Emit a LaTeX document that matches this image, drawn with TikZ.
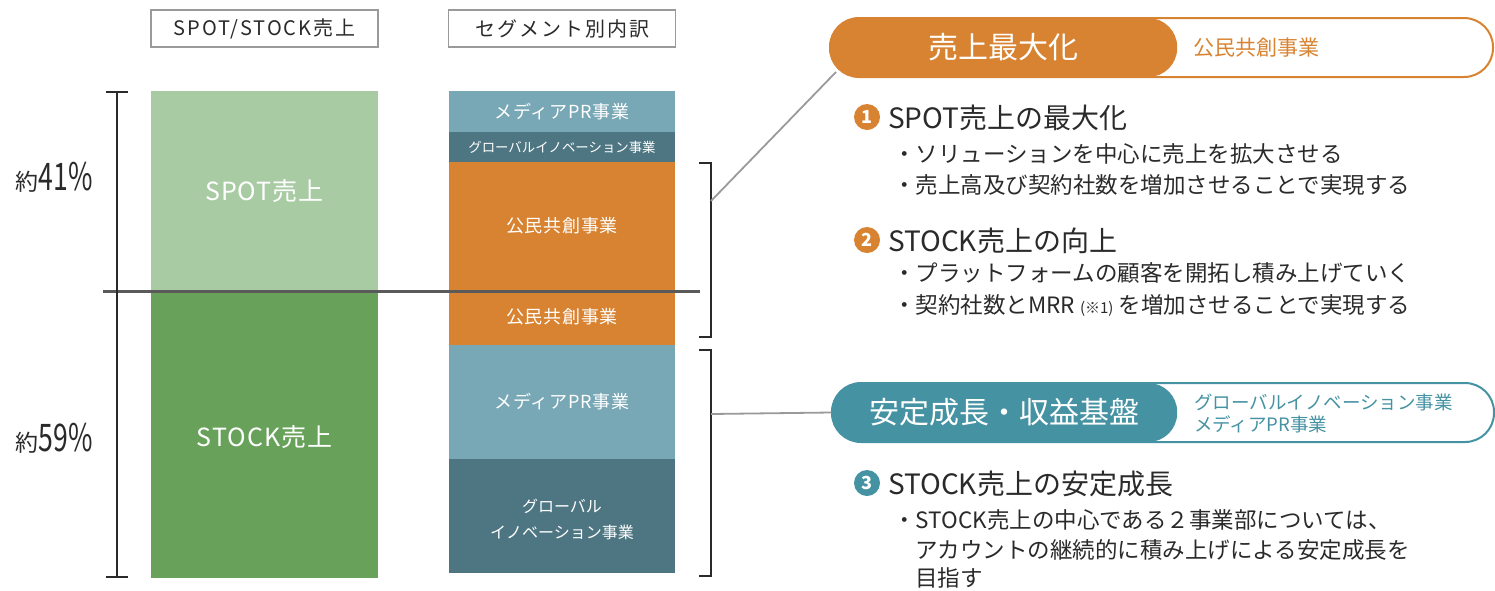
\documentclass[tikz,border=0pt]{standalone}
\usepackage{fontspec}
\setmainfont{Noto Sans CJK JP}
\newfontfamily\jpls[LetterSpace=10]{Noto Sans CJK JP}
\newfontfamily\jplss[LetterSpace=4]{Noto Sans CJK JP}
\definecolor{orng}{HTML}{D88331}
\definecolor{tealp}{HTML}{4592A3}
\definecolor{lblue}{HTML}{78A7B5}
\definecolor{dteal}{HTML}{4E7682}
\definecolor{lgreen}{HTML}{A9CBA4}
\definecolor{dgreen}{HTML}{68A25A}
\definecolor{txt}{HTML}{2A2A2A}
\definecolor{divl}{HTML}{5A5A5A}
\definecolor{conn}{HTML}{9A9A9A}
\newcommand{\fsz}[1]{\fontsize{#1}{#1}\selectfont}
\begin{document}
\begin{tikzpicture}[x=1pt,y=-1pt,
  hdr/.style={draw=conn, line width=1.6pt, minimum width=227pt, minimum height=37pt, inner sep=0pt, text=txt, font=\jpls\fsz{20}},
  blk/.style={anchor=north west, inner sep=0pt, outer sep=0pt, text=white},
  seglbl/.style={text=white, inner sep=0pt, font=\jplss\fsz{18}},
  brk/.style={draw=txt, line width=1.8pt},
  cn/.style={draw=conn, line width=1.8pt},
  pillout/.style={line width=2pt, rounded corners=29pt, minimum width=663pt, minimum height=59pt, anchor=west, inner sep=0pt},
  pillin/.style={rounded corners=29pt, minimum width=348pt, minimum height=59pt, anchor=west, inner sep=0pt, text=white, font=\fsz{30}},
  num/.style={circle, minimum size=26pt, inner sep=0pt, text=white, font=\bfseries\fsz{18}},
  ttl/.style={anchor=west, inner sep=0pt, text=txt, font=\fsz{28}},
  bul/.style={anchor=west, inner sep=0pt, text=txt, font=\fsz{22.5}}
]
\useasboundingbox (0,0) rectangle (1495,590);

% headers
\node[hdr] (h1) at (264.5,28.5) {SPOT/STOCK売上};
\node[hdr] (h2) at (562,28.5) {セグメント別内訳};

% left bars
\node[blk, fill=lgreen, minimum width=227pt, minimum height=200pt] (spot) at (151,91) {};
\node[text=white, inner sep=0pt, font=\jplss\fsz{25}] (spotl) at (264.5,191) {SPOT売上};
\node[blk, fill=dgreen, minimum width=227pt, minimum height=287pt] (stock) at (151,291) {};
\node[text=white, inner sep=0pt, font=\jplss\fsz{25}] (stockl) at (264.5,437) {STOCK売上};

% segment bars
\node[blk, fill=lblue, minimum width=226pt, minimum height=41pt] (s1) at (449,91) {};
\node[seglbl] at (s1.center) {メディアPR事業};
\node[blk, fill=dteal, minimum width=226pt, minimum height=30pt] (s2) at (449,132) {};
\node[seglbl, font=\fsz{13.4}] at (s2.center) {グローバルイノベーション事業};
\node[blk, fill=orng, minimum width=226pt, minimum height=183pt] (s3) at (449,162) {};
\node[seglbl] (s3a) at (562,226) {公民共創事業};
\node[seglbl] (s3b) at (562,317) {公民共創事業};
\node[blk, fill=lblue, minimum width=226pt, minimum height=114pt] (s4) at (449,345) {};
\node[seglbl] at (s4.center) {メディアPR事業};
\node[blk, fill=dteal, minimum width=226pt, minimum height=114pt] (s5) at (449,459) {};
\node[seglbl, align=center, font=\fontsize{16}{26}\selectfont] at (562,519) {グローバル\\イノベーション事業};

% divider
\coordinate (dA) at (103,291);
\coordinate (dB) at (700,291);
\draw[draw=divl, line width=3pt] (dA) -- (dB);

% left bracket
\coordinate (lt) at (117,92);
\coordinate (lb) at (117,577);
\draw[brk] (lt) -- (lb);
\draw[brk] ([xshift=-11pt]lt) -- ([xshift=11pt]lt);
\draw[brk] ([xshift=-11pt]lb) -- ([xshift=11pt]lb);
\node[text=txt, inner sep=0pt] (p41) at (54,177) {\fsz{23}約\fsz{38}\scalebox{0.7}[1]{41\%}};
\node[text=txt, inner sep=0pt] (p59) at (54,438) {\fsz{23}約\fsz{38}\scalebox{0.7}[1]{59\%}};

% right brackets
\coordinate (r1t) at (711,163);
\coordinate (r1b) at (711,337);
\coordinate (r2t) at (711,350);
\coordinate (r2b) at (711,576);
\draw[brk] ([xshift=-12pt]r1t) -- (r1t) -- (r1b) -- ([xshift=-12pt]r1b);
\draw[brk] ([xshift=-12pt]r2t) -- (r2t) -- (r2b) -- ([xshift=-12pt]r2b);

% pills
\node[pillout, draw=orng] (p1o) at (829,47.5) {};
\node[pillin, fill=orng] (p1) at (829,47.5) {売上最大化};
\node[anchor=west, inner sep=0pt, text=orng, font=\fsz{21}] (p1t) at (1193,48) {公民共創事業};

\node[pillout, draw=tealp, minimum width=662pt] (p2o) at (831,412.5) {};
\node[pillin, fill=tealp, minimum width=346pt] (p2) at (831,412.5) {安定成長・収益基盤};
\node[anchor=west, inner sep=0pt, text=tealp, align=left, font=\fontsize{18.5}{22}\selectfont] (p2t) at (1194,413) {グローバルイノベーション事業\\メディアPR事業};

% connectors
\coordinate (c1s) at (711,201);
\coordinate (c1e) at (836,72);
\draw[cn] (c1s) -- (c1e);
\coordinate (c2s) at (711,414);
\draw[cn] (c2s) -- (p2.west);

% section 1
\node[num, fill=orng] (n1) at (867,117) {1};
\node[ttl] (t1) at (888,118) {SPOT売上の最大化};
\node[bul] (b11) at (893,154) {・ソリューションを中心に売上を拡大させる};
\node[bul] (b12) at (893,185) {・売上高及び契約社数を増加させることで実現する};

% section 2
\node[num, fill=orng] (n2) at (867,240) {2};
\node[ttl] (t2) at (888,241) {STOCK売上の向上};
\node[bul] (b21) at (893,273) {・プラットフォームの顧客を開拓し積み上げていく};
\node[bul] (b22) at (893,305) {・契約社数とMRR {\fsz{15}(※1)} を増加させることで実現する};

% section 3
\node[num, fill=tealp] (n3) at (867,483) {3};
\node[ttl] (t3) at (888,484) {STOCK売上の安定成長};
\node[bul] (b31) at (893,520) {・STOCK売上の中心である２事業部については、};
\node[bul] (b32) at (915,550) {アカウントの継続的に積み上げによる安定成長を};
\node[bul] (b33) at (915,578) {目指す};
\end{tikzpicture}
\end{document}
